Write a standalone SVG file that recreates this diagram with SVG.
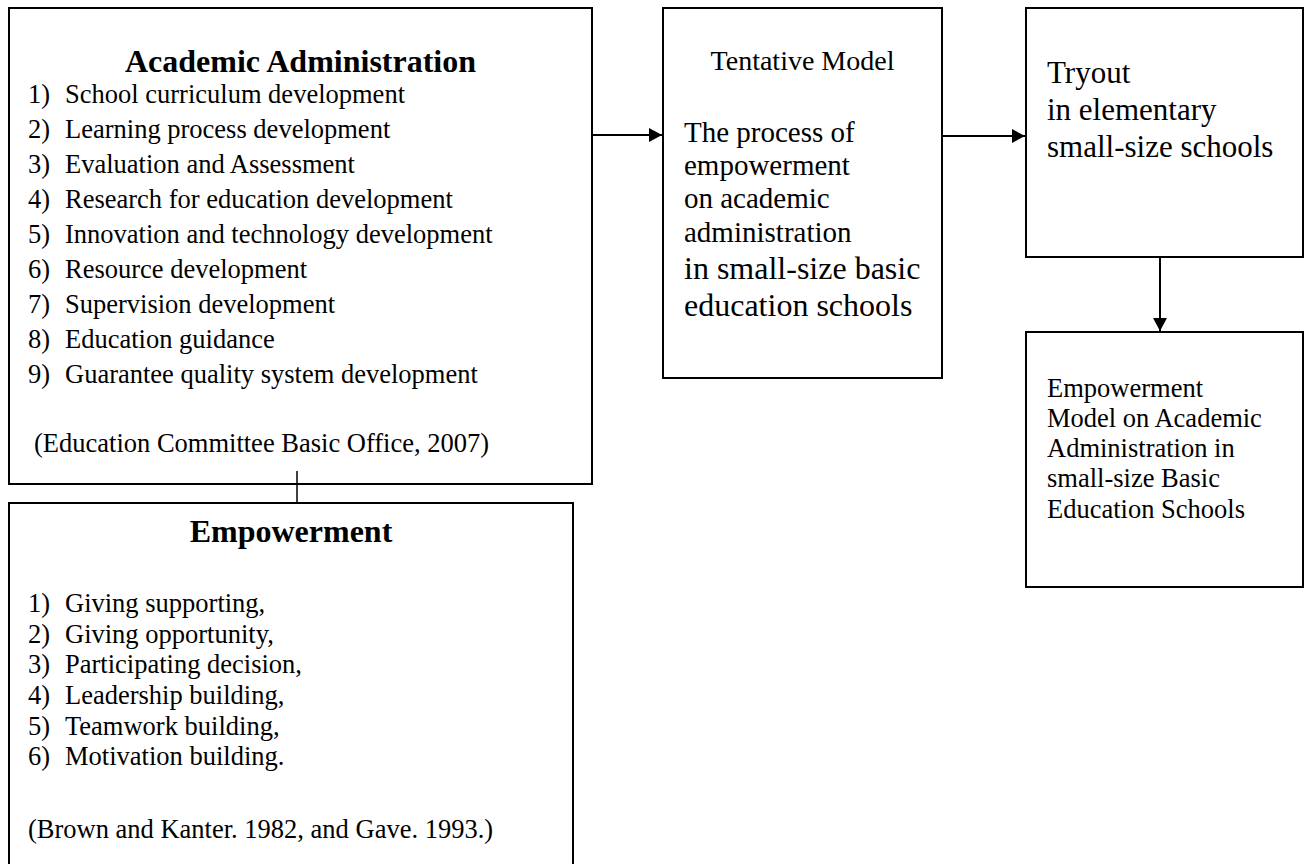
<svg xmlns="http://www.w3.org/2000/svg" width="1308" height="864" viewBox="0 0 1308 864">
<style>
.box{fill:#fff;stroke:#000;stroke-width:2}
text{font-family:"Liberation Serif","Times New Roman",serif;fill:#000}
.t{font-size:26.5px}
.h{font-size:32px;font-weight:bold;text-anchor:middle}
.big{font-size:29px}
.big2{font-size:32px}
.try{font-size:31px}
.conn{stroke:#000;stroke-width:2;fill:none}
</style>
<defs>
<marker id="ah" markerWidth="14" markerHeight="14" refX="13" refY="7" orient="auto" markerUnits="userSpaceOnUse">
<path d="M0,0 L13,7 L0,14 Z" fill="#000"/>
</marker>
</defs>
<rect width="1308" height="864" fill="#fff"/>
<g id="academic-administration">
<rect class="box" x="9" y="8" width="583" height="476"/>
<text class="h" x="300.5" y="72">Academic Administration</text>
<g class="t">
<text x="28" y="103">1)</text><text x="65" y="103">School curriculum development</text>
<text x="28" y="138">2)</text><text x="65" y="138">Learning process development</text>
<text x="28" y="173">3)</text><text x="65" y="173">Evaluation and Assessment</text>
<text x="28" y="208">4)</text><text x="65" y="208">Research for education development</text>
<text x="28" y="243">5)</text><text x="65" y="243">Innovation and technology development</text>
<text x="28" y="278">6)</text><text x="65" y="278">Resource development</text>
<text x="28" y="313">7)</text><text x="65" y="313">Supervision development</text>
<text x="28" y="348">8)</text><text x="65" y="348">Education guidance</text>
<text x="28" y="383">9)</text><text x="65" y="383">Guarantee quality system development</text>
<text x="34" y="452">(Education Committee Basic Office, 2007)</text>
</g>
</g>
<g id="empowerment">
<rect class="box" x="9" y="503" width="564" height="380"/>
<text class="h" x="291" y="542">Empowerment</text>
<g class="t">
<text x="28" y="612">1)</text><text x="65" y="612">Giving supporting,</text>
<text x="28" y="643">2)</text><text x="65" y="643">Giving opportunity,</text>
<text x="28" y="673">3)</text><text x="65" y="673">Participating decision,</text>
<text x="28" y="704">4)</text><text x="65" y="704">Leadership building,</text>
<text x="28" y="735">5)</text><text x="65" y="735">Teamwork building,</text>
<text x="28" y="765">6)</text><text x="65" y="765">Motivation building.</text>
<text x="28" y="838">(Brown and Kanter. 1982, and Gave. 1993.)</text>
</g>
</g>
<g id="tentative-model">
<rect class="box" x="663" y="8" width="279" height="370"/>
<text x="802.5" y="70" style="font-size:28px;text-anchor:middle">Tentative Model</text>
<text class="big" x="684" y="142">The process of</text>
<text class="big" x="684" y="175">empowerment</text>
<text class="big" x="684" y="208">on academic</text>
<text class="big" x="684" y="242">administration</text>
<text class="big2" x="684" y="279">in small-size basic</text>
<text class="big2" x="684" y="316">education schools</text>
</g>
<g id="tryout">
<rect class="box" x="1026" y="8" width="277" height="249"/>
<text class="try" x="1047" y="83">Tryout</text>
<text class="try" x="1047" y="120">in elementary</text>
<text class="try" x="1047" y="157">small-size schools</text>
</g>
<g id="empowerment-model">
<rect class="box" x="1026" y="332" width="277" height="255"/>
<g class="t">
<text x="1047" y="397">Empowerment</text>
<text x="1047" y="427">Model on Academic</text>
<text x="1047" y="457">Administration in</text>
<text x="1047" y="487">small-size Basic</text>
<text x="1047" y="518">Education Schools</text>
</g>
</g>
<g id="connectors">
<line class="conn" x1="592" y1="135" x2="662" y2="135" marker-end="url(#ah)"/>
<line class="conn" x1="942" y1="136" x2="1025" y2="136" marker-end="url(#ah)"/>
<line class="conn" x1="1160" y1="257" x2="1160" y2="331" marker-end="url(#ah)"/>
<line class="conn" x1="297" y1="471" x2="297" y2="503" style="stroke-width:1.5"/>
</g>
</svg>
